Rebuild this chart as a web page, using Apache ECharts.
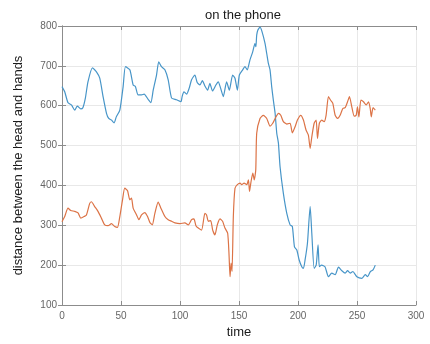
<!DOCTYPE html>
<html>
<head>
<meta charset="utf-8">
<script src="https://cdn.jsdelivr.net/npm/echarts@6/dist/echarts.min.js"></script>
<style>
  html, body { margin: 0; padding: 0; background: #fff; }
  #chart { width: 430px; height: 344px; }
</style>
</head>
<body>
<div id="chart"></div>
<script>
'use strict';

// blue trace
var timeBlue = [0, 2.3, 5, 8, 10.8, 13, 15.9, 17.7, 19.8, 22, 25.8, 29.2, 32, 34.8, 37.7, 39.6, 41.9, 44.2, 46, 49,
  51.8, 53.8, 57.5, 60.3, 62.2, 64.5, 67.4, 69.6, 73, 75.3, 77.3, 80.1, 82, 84.3, 87.2, 90, 92.9, 97, 100.8, 101.8,
  103.3, 105.6, 107.8, 109.8, 112.6, 114.6, 116.9, 119, 121, 123.4, 125.3, 127.6, 130.4, 132.4, 134.4, 136.7, 139.5, 141.8, 144.6, 146.6,
  148.6, 150.3, 153.1, 155, 157, 159.3, 161.6, 163.5, 164.3, 165, 166, 167.8, 169.5, 172, 173.5, 174.9, 176.3, 177.7, 179.1, 180.6,
  182, 183.4, 184.8, 187.6, 190.5, 193.3, 195.2, 197, 199, 201, 203.2, 204.6, 206, 208, 210.3, 211.7, 213.7, 215.4, 217, 218.1,
  220, 222.9, 225.8, 228.6, 231.5, 234.3, 237.2, 240, 242, 244.3, 246.5, 249.9, 254.2, 257, 259, 261.3, 263.6, 265.5];
var distBlue = [648, 635, 608, 602, 589, 599, 592, 595, 619, 660, 695, 685, 669, 623, 581, 568, 564, 557, 572, 589,
  648, 698, 690, 652, 648, 627, 627, 629, 616, 608, 639, 677, 710, 698, 690, 665, 619, 615, 610, 623,
  635, 629, 644, 665, 677, 658, 652, 663, 650, 639, 656, 637, 652, 660, 644, 623, 660, 639, 677, 669,
  639, 677, 690, 698, 690, 715, 735, 756, 748, 777, 790, 797, 786, 757, 731, 706, 690, 648, 614, 581,
  531, 506, 447, 380, 330, 301, 297, 246, 238, 213, 196, 192, 213, 255, 347, 280, 192, 200, 251, 196,
  200, 196, 171, 180, 176, 195, 186, 180, 186, 180, 184, 171, 167, 176, 171, 184, 188, 200];

// orange trace
var timeOrange = [0, 2.3, 5.1, 7.4, 10.8, 13.6, 15.9, 18.7, 20.7, 23.5, 24.9, 27.7, 30.5, 33.4, 36.2, 39, 41.9, 44.7, 47, 49,
  51.3, 53.2, 55.5, 57.5, 58.9, 60.3, 63.2, 65.1, 67.4, 70.2, 72.5, 74.5, 76.5, 78.7, 81.5, 83.8, 87.2, 90, 92.9, 95.7,
  99.9, 104.1, 107, 109.8, 111.8, 113.5, 115.5, 118.3, 121.1, 122.5, 124, 126, 127.7, 129.6, 131.6, 133.9, 136.1, 138.1, 140.4, 141.5,
  142.4, 143.3, 144.1, 145.2, 146.6, 148.6, 150.9, 152.3, 154.3, 156.6, 158, 158.9, 160, 161.7, 162.9, 164.2, 165, 167.8, 170.6, 173.5,
  176.3, 178.6, 180.6, 183.4, 185.4, 187.6, 190.5, 193.3, 195.2, 197.5, 199.5, 202.3, 204.6, 206.8, 208.8, 210.3, 211.7, 213.7, 215.4, 216.5,
  218.1, 220.1, 222.1, 223.8, 225.8, 227.8, 229.5, 231.5, 233.5, 235.7, 238, 240, 242, 243.6, 245.6, 247.6, 249.3, 250.4, 251.6, 253.3,
  255.5, 257.8, 259.8, 261.2, 262.1, 263.6, 265.5];
var distOrange = [309, 322, 343, 337, 335, 331, 318, 322, 326, 355, 359, 347, 335, 318, 301, 299, 304, 297, 295, 322,
  364, 393, 387, 364, 368, 343, 326, 314, 326, 332, 322, 307, 301, 330, 358, 343, 322, 314, 310, 306,
  304, 306, 301, 314, 316, 299, 293, 288, 330, 326, 310, 312, 288, 276, 301, 316, 310, 293, 280, 230,
  171, 205, 184, 322, 393, 402, 406, 402, 406, 402, 414, 385, 406, 431, 414, 439, 531, 568, 576, 568,
  549, 556, 568, 581, 576, 560, 554, 556, 532, 547, 564, 576, 564, 539, 526, 493, 522, 556, 564, 518,
  556, 564, 560, 576, 623, 613, 606, 576, 568, 576, 593, 595, 610, 623, 597, 574, 576, 597, 572, 614,
  610, 602, 610, 593, 572, 595, 589];

var xTicks = [0, 300, 50];
var yTicks = [100, 800, 100];

function pairs(xs, ys) {
  return xs.map(function (x, i) { return [x, ys[i]]; });
}

var font = 'Liberation Sans, Arial, sans-serif';
var axisGray = '#8c8c8c';

var chart = echarts.init(document.getElementById('chart'), null, { renderer: 'canvas' });
chart.setOption({
  animation: false,
  backgroundColor: '#fff',
  title: {
    text: 'on the phone',
    left: 238,
    top: 4,
    textAlign: 'center',
    textStyle: { fontFamily: font, fontSize: 13, fontWeight: 'normal', color: '#1a1a1a' }
  },
  grid: { left: 62, right: 14, top: 26, bottom: 39 },
  xAxis: [{
    type: 'value',
    min: xTicks[0], max: xTicks[1], interval: xTicks[2],
    name: 'time',
    nameLocation: 'middle',
    nameGap: 20,
    nameTextStyle: { fontFamily: font, fontSize: 13, color: '#1a1a1a' },
    axisLine: { lineStyle: { color: axisGray, width: 1 } },
    axisTick: { inside: true, length: 4, lineStyle: { color: axisGray } },
    axisLabel: { fontFamily: font, fontSize: 10, color: '#666', margin: 6 },
    splitLine: { show: true, lineStyle: { color: '#e8e8e8', width: 1 } }
  }, {
    type: 'value', position: 'top',
    min: xTicks[0], max: xTicks[1], interval: xTicks[2],
    axisLine: { lineStyle: { color: axisGray, width: 1 } },
    axisTick: { inside: true, length: 4, lineStyle: { color: axisGray } },
    axisLabel: { show: false },
    splitLine: { show: false }
  }],
  yAxis: [{
    type: 'value',
    min: yTicks[0], max: yTicks[1], interval: yTicks[2],
    name: 'distance between the head and hands',
    nameLocation: 'middle',
    nameGap: 37,
    nameTextStyle: { fontFamily: font, fontSize: 13, color: '#1a1a1a' },
    axisLine: { show: true, lineStyle: { color: axisGray, width: 1 } },
    axisTick: { show: true, inside: true, length: 4, lineStyle: { color: axisGray } },
    axisLabel: { fontFamily: font, fontSize: 10, color: '#666', margin: 5 },
    splitLine: { show: true, lineStyle: { color: '#e8e8e8', width: 1 } }
  }, {
    type: 'value', position: 'right',
    min: yTicks[0], max: yTicks[1], interval: yTicks[2],
    axisLine: { show: true, lineStyle: { color: axisGray, width: 1 } },
    axisTick: { show: true, inside: true, length: 4, lineStyle: { color: axisGray } },
    axisLabel: { show: false },
    splitLine: { show: false }
  }],
  series: [{
    name: 'blue',
    type: 'line',
    data: pairs(timeBlue, distBlue),
    showSymbol: false,
    smooth: 0.2,
    lineStyle: { color: '#4795c8', width: 1.2 },
    itemStyle: { color: '#4795c8' }
  }, {
    name: 'orange',
    type: 'line',
    data: pairs(timeOrange, distOrange),
    showSymbol: false,
    smooth: 0.2,
    lineStyle: { color: '#dc7346', width: 1.2 },
    itemStyle: { color: '#dc7346' }
  }]
});
</script>
</body>
</html>
